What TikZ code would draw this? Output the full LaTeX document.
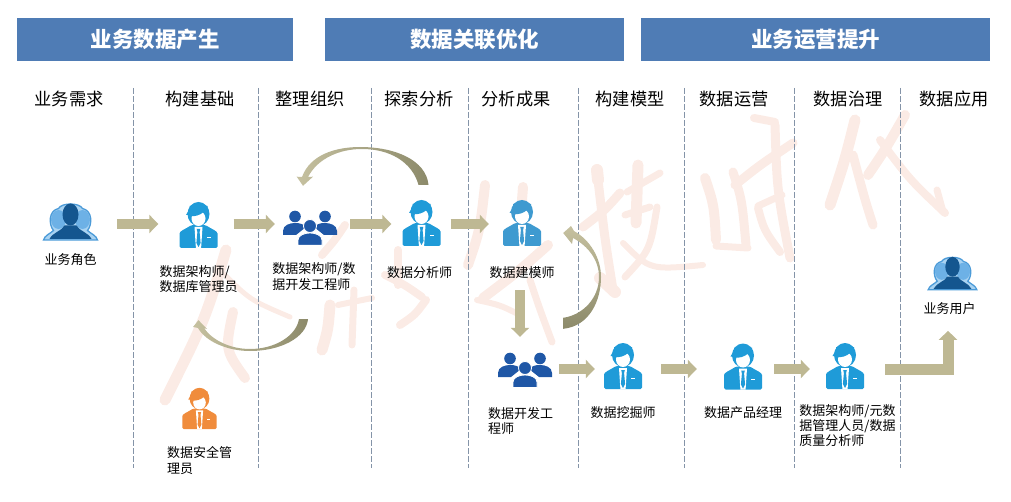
\documentclass[tikz,border=0pt]{standalone}
\usepackage{fontspec}
\setmainfont{Noto Sans CJK SC}
\usetikzlibrary{arrows.meta, positioning}
\definecolor{headerblue}{HTML}{4F7CB5}
\definecolor{linkkhaki}{HTML}{BEB893}
\definecolor{loopdark}{HTML}{8C8A6A}
\definecolor{looplight}{HTML}{C6C1A0}
\definecolor{personblue}{HTML}{1F9BD8}
\definecolor{modelblue}{HTML}{3E9AD0}
\definecolor{teamblue}{HTML}{1F57A6}
\definecolor{securityorange}{HTML}{F08C3C}
\definecolor{waterpink}{HTML}{FBEBE5}
\definecolor{dividergray}{HTML}{8494A8}
\definecolor{usersdark}{HTML}{14568F}
\definecolor{usersmid}{HTML}{6DB1E6}
\definecolor{userslight}{HTML}{A9D3F2}
\definecolor{usersedge}{HTML}{4C9BD8}
\tikzset{
    header bar/.style = {
      fill=headerblue, text=white, inner sep=0, minimum height=43pt,
      font=\fontsize{21.5}{25}\selectfont\bfseries,
    },
    step title/.style = {inner sep=0, font=\fontsize{17.2}{20}\selectfont},
    role label/.style = {inner sep=0, align=left, font=\fontsize{13}{15.3}\selectfont},
    icon/.style = {inner sep=0, minimum width=38pt, minimum height=46pt},
    divider/.style = {dividergray, line width=0.9pt, dash pattern=on 6pt off 2pt},
    link/.style = {linkkhaki, line width=10pt, arrows={-Triangle[width=18pt, length=9pt]}},
    loop arrow/.style = {draw=none},
    watermark/.style = {waterpink, line width=9pt, line cap=round},
}
\newcommand{\drawperson}[4][1]{%
  %% Draw a person with a suit and tie:
  %% Arguments:
  %%    1. Scale
  %%    2. Name
  %%    3. Position
  %%    4. Colour
  \node [icon] (#2) at (#3) {};
  \begin{scope}[shift={(#2)}, scale=#1]
    \fill [#4, rounded corners=1.5pt] (-19,23) -- (-19,10) .. controls (-19,6) and (-13,4) .. (-7,0)
      -- (7,0) .. controls (13,4) and (19,6) .. (19,10) -- (19,23) -- cycle;
    \fill [white] (-4,2) -- (4,2) -- (2.6,23) -- (-2.6,23) -- cycle;
    \fill [#4] (-1.8,4) -- (1.8,4) -- (1.1,7) -- (2.1,18) -- (0,22) -- (-2.1,18) -- (-1.1,7) -- cycle;
    \fill [white] (8,12) rectangle (12,13.2);
    \fill [#4] (0,-11) ellipse [x radius=11, y radius=12];
    \fill [white] (0,-6.5) ellipse [x radius=7, y radius=7.5];
    \fill [#4] (-9,-9) .. controls (-4,-8) and (2,-10) .. (5,-13)
      .. controls (6,-11) and (8,-9) .. (9.5,-8) -- (9,-19) -- (-9,-19) -- cycle;
    \fill [#4] (-9,-16) -- (-12.5,-10) -- (-8,-10) -- cycle;
  \end{scope}
}
\newcommand{\drawteam}[2]{%
  %% Draw three people standing together
  \node [inner sep=0, minimum width=54pt, minimum height=34pt] (#1) at (#2) {};
  \begin{scope}[shift={(#1)}]
    \fill [teamblue] (-15,-11.5) circle [radius=5.8] (15,-11.5) circle [radius=5.8];
    \fill [teamblue] (-27,7) -- (-27,3) .. controls (-27,-3) and (-20,-5) .. (-15,-5)
      .. controls (-10,-5) and (-7,-4) .. (-4,-1) -- (-14,7) -- cycle;
    \fill [teamblue] (27,7) -- (27,3) .. controls (27,-3) and (20,-5) .. (15,-5)
      .. controls (10,-5) and (7,-4) .. (4,-1) -- (14,7) -- cycle;
    \filldraw [teamblue, draw=white, line width=0.8pt] (0,-2) circle [radius=6.5];
    \filldraw [teamblue, draw=white, line width=0.8pt] (-12,17.4) -- (-12,12)
      .. controls (-12,7) and (-5,5) .. (0,5) .. controls (5,5) and (12,7) .. (12,12)
      -- (12,17.4) -- cycle;
  \end{scope}
}
\newcommand{\drawusers}[3][1]{%
  %% Draw a group of business users
  \node [inner sep=0, minimum width=55pt*#1, minimum height=37pt*#1] (#2) at (#3) {};
  \begin{scope}[shift={(#2)}, scale=#1]
    \filldraw [fill=userslight, draw=usersedge, line width=1.3pt]
      (-27,17.5) .. controls (-26,13) and (-20,11) .. (-17,8)
      .. controls (-22,2) and (-22,-12) .. (-12,-14) .. controls (-9,-20) and (9,-20) .. (12,-14)
      .. controls (22,-12) and (22,2) .. (17,8) .. controls (20,11) and (26,13) .. (27,17.5) -- cycle;
    \fill [usersmid] (-12,-3) ellipse [x radius=7.5, y radius=9.5];
    \fill [usersmid] (12,-3) ellipse [x radius=7.5, y radius=9.5];
    \fill [usersdark] (0,-8) ellipse [x radius=8, y radius=11];
    \fill [usersdark] (-21,16.5) .. controls (-18,10) and (-8,8) .. (-6,3)
      -- (6,3) .. controls (8,8) and (18,10) .. (21,16.5) -- cycle;
  \end{scope}
}

\begin{document}
\begin{tikzpicture}[x=1pt, y=-1pt]
    \useasboundingbox (0,0) rectangle (1011,502);

    %% Pale handwriting across the middle
    \draw [watermark, line width=11pt] (226,250) .. controls (205,320) .. (165,400);
    \draw [watermark, line width=5pt] (222,272) .. controls (250,300) .. (290,317);
    \draw [watermark, line width=10pt] (233,312) .. controls (225,350) .. (245,378);
    \draw [watermark, line width=8pt] (345,225) .. controls (335,240) .. (322,255);
    \draw [watermark, line width=11pt] (330,305) .. controls (328,330) .. (322,350);
    \draw [watermark, line width=7pt] (354,290) -- (352,345);
    \draw [watermark, line width=6pt] (338,305) -- (372,298);
    \draw [watermark, line width=8pt] (398,250) -- (398,285);
    \draw [watermark, line width=8pt] (385,275) .. controls (405,285) .. (422,297);
    \draw [watermark, line width=8pt] (426,300) .. controls (415,315) .. (400,325);
    \draw [watermark, line width=10pt] (485,185) .. controls (480,230) .. (468,265);
    \draw [watermark, line width=10pt] (523,187) -- (522,200);
    \draw [watermark, line width=10pt] (548,245) .. controls (520,270) .. (483,298);
    \draw [watermark, line width=6pt] (477,300) .. controls (500,305) .. (520,315);
    \draw [watermark, line width=7pt] (530,280) .. controls (540,310) .. (552,342);
    \draw [watermark, line width=12pt] (597,170) -- (598,180);
    \draw [watermark] (598,180) .. controls (605,240) .. (613,290);
    \draw [watermark] (620,193) .. controls (605,210) .. (583,227);
    \draw [watermark, line width=11pt] (638,165) -- (636,223);
    \draw [watermark, line width=7pt] (660,173) -- (627,192);
    \draw [watermark, line width=7pt] (650,207) -- (625,215);
    \draw [watermark, line width=7pt] (657,207) .. controls (650,250) .. (625,277);
    \draw [watermark, line width=6pt] (623,243) .. controls (650,270) .. (703,265);
    \draw [watermark, line width=12pt] (600,278) -- (615,292);
    \draw [watermark, line width=10pt] (705,178) .. controls (714,205) .. (716,240);
    \draw [watermark, line width=9pt] (733,172) .. controls (742,200) .. (746,245);
    \draw [watermark, line width=7pt] (716,246) -- (748,248);
    \draw [watermark, line width=9pt] (735,185) .. controls (760,165) .. (793,143);
    \draw [watermark, line width=9pt] (775,125) .. controls (777,190) .. (790,258);
    \draw [watermark, line width=8pt] (754,118) -- (775,122);
    \draw [watermark, line width=8pt] (758,208) .. controls (764,230) .. (780,252);
    \draw [watermark, line width=7pt] (758,206) -- (782,195);
    \draw [watermark, line width=11pt] (855,120) .. controls (845,160) .. (830,205);
    \draw [watermark] (853,155) .. controls (865,200) .. (873,225);
    \draw [watermark, line width=10pt] (905,115) .. controls (885,150) .. (868,175);
    \draw [watermark, line width=8pt] (880,140) .. controls (910,180) .. (945,213);
    \draw [watermark, line width=7pt] (937,190) -- (943,212);

    %% The three stages along the top
    \foreach \n/\x/\w/\title in {produce/155/276/业务数据产生, optimize/474.5/299/数据关联优化, promote/815.5/349/业务运营提升}{%
      \node [header bar, minimum width=\w pt] (\n) at (\x,39.5) {\title};
    }

    %% The nine steps and the lines between them
    \foreach \n/\x/\title in {need/69/业务需求, base/200/构建基础, organize/310/整理组织,
        explore/419/探索分析, result/516/分析成果, model/630/构建模型,
        operate/734/数据运营, govern/848/数据治理, apply/954/数据应用}{%
      \node [step title] (\n) at (\x,99) {\title};
    }
    \foreach \x in {133,258,371,468,578,684,794,900}{%
      \draw [divider] (\x,88) -- (\x,468);
    }

    %% Roles
    \drawusers{role}{70.5,222.5}
    \drawperson{builder}{198.5,225}{personblue}
    \drawteam{devteam}{310,228}
    \drawperson{analyst}{421.5,223}{personblue}
    \drawperson{modeller}{522,223}{modelblue}
    \drawteam{devs}{525,370}
    \drawperson[0.9]{security}{199.5,408.5}{securityorange}
    \drawperson{miner}{623,366}{personblue}
    \drawperson{manager}{743,366.5}{personblue}
    \drawperson{governor}{845,366}{personblue}
    \drawusers[0.9]{user}{952.5,274}

    \node [role label, below=12pt of role] (role text) {业务角色};
    \node [role label, below=17pt of builder] (builder text) {数据架构师/\\数据库管理员};
    \node [role label, below=17.5pt of devteam, xshift=4pt] (devteam text) {数据架构师/数\\据开发工程师};
    \node [role label, below=20pt of analyst, xshift=-2pt] (analyst text) {数据分析师};
    \node [role label, below=20pt of modeller] (modeller text) {数据建模师};
    \node [role label, below=20pt of devs, xshift=-4.5pt] (devs text) {数据开发工\\程师};
    \node [role label, below=15pt of security] (security text) {数据安全管\\理员};
    \node [role label, below=17pt of miner] (miner text) {数据挖掘师};
    \node [role label, below=17pt of manager] (manager text) {数据产品经理};
    \node [role label, below=15pt of governor, xshift=2.5pt] (governor text) {数据架构师/元数\\据管理人员/数据\\质量分析师};
    \node [role label, below=11pt of user, xshift=-3pt] (user text) {业务用户};

    %% Links between the roles
    \coordinate (row1) at (0,224);
    \coordinate (row2) at (0,369);
    \draw [link, shorten <=19pt, shorten >=21pt] (role.east |- row1) -- (builder.west |- row1);
    \draw [link, shorten <=16pt, shorten >=8pt] (builder.east |- row1) -- (devteam.west |- row1);
    \draw [link, shorten <=13pt, shorten >=11pt] (devteam.east |- row1) -- (analyst.west |- row1);
    \draw [link, shorten <=10pt, shorten >=14pt] (analyst.east |- row1) -- (modeller.west |- row1);
    \draw [link, shorten <=44pt, shorten >=16pt]
      ([xshift=-2pt] modeller.south) -- ([xshift=-2pt] modeller.south |- devs.north);
    \draw [link, shorten <=7pt, shorten >=9pt] (devs.east |- row2) -- (miner.west |- row2);
    \draw [link, shorten <=19pt, shorten >=27pt] (miner.east |- row2) -- (manager.west |- row2);
    \draw [link, shorten <=12pt, shorten >=16pt] (manager.east |- row2) -- (governor.west |- row2);
    \draw [link, line width=11pt, shorten <=21pt, shorten >=40pt]
      (governor.east |- row2) -| ([xshift=-4.5pt] user.south);

    %% Curved links that go back a step
    \shade [loop arrow, left color=looplight, right color=loopdark]
      ([xshift=7pt, yshift=15pt] analyst.north)
      .. controls (426,160) and (395,147) .. (360,147)
      .. controls (335,147) and (310,155) .. (302,177)
      -- (296.7,176.7) -- ([xshift=-7pt, yshift=25pt] devteam.north) -- (313,176.7) -- (308,177)
      .. controls (318,158) and (340,149) .. (362,149)
      .. controls (390,149) and (412,162) .. ([xshift=-3pt, yshift=15pt] analyst.north) -- cycle;
    \shade [loop arrow, left color=looplight, right color=loopdark]
      ([xshift=-2pt, yshift=-74pt] devteam.south)
      .. controls (306,338) and (280,351) .. (250,351)
      .. controls (228,351) and (206,342) .. (198,328)
      -- (193,327) -- ([yshift=-72pt] builder.south) -- (207,329) -- (204,328)
      .. controls (212,340) and (230,349) .. (250,349)
      .. controls (275,349) and (296,336) .. ([xshift=-11pt, yshift=-74pt] devteam.south) -- cycle;
    \shade [loop arrow, top color=looplight, bottom color=loopdark]
      ([xshift=11pt, yshift=24pt] devs.north east)
      .. controls (590,326) and (601,300) .. (601,277)
      .. controls (601,258) and (590,240) .. (574,231)
      -- (571,226) -- ([xshift=22pt, yshift=-10pt] modeller.east) -- (572,244) -- (573,238)
      .. controls (588,246) and (599,260) .. (599,277)
      .. controls (599,298) and (583,315) .. ([xshift=11pt, yshift=35pt] devs.north east) -- cycle;
\end{tikzpicture}
\end{document}
